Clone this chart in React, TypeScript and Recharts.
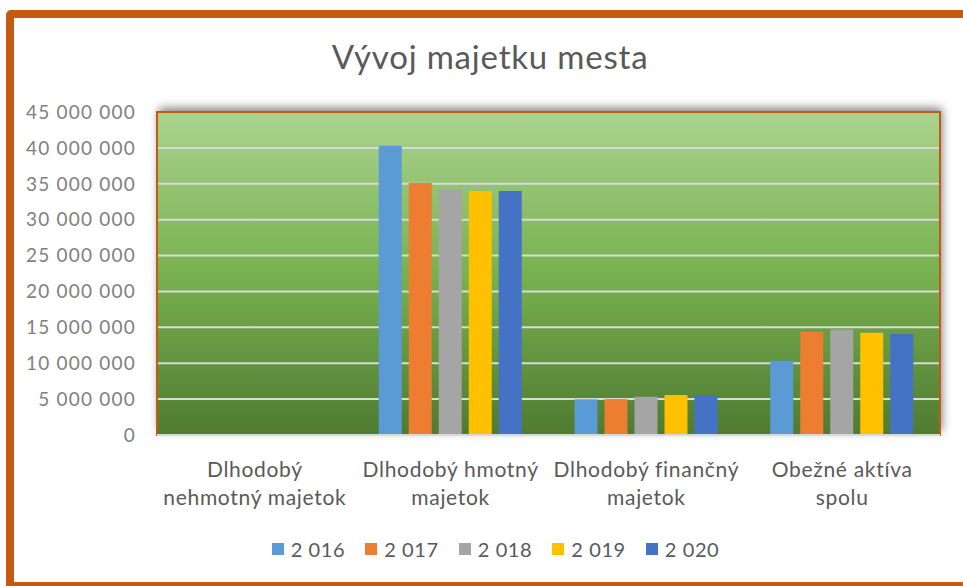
import React from "react";
import { BarChart, Bar, XAxis, YAxis, CartesianGrid, Legend, ReferenceArea } from "recharts";

const title = "Vývoj majetku mesta";
const categories = [
  "Dlhodobý\nnehmotný majetok",
  "Dlhodobý hmotný\nmajetok",
  "Dlhodobý finančný\nmajetok",
  "Obežné aktíva\nspolu",
];
const seriesNames = ["2 016", "2 017", "2 018", "2 019", "2 020"];
const seriesColors = ["#5b9bd5", "#ed7d31", "#a5a5a5", "#ffc000", "#4472c4"];
const values2016 = [0, 40300000, 4970000, 10350000];
const values2017 = [0, 35100000, 5000000, 14400000];
const values2018 = [0, 34200000, 5330000, 14700000];
const values2019 = [0, 34000000, 5570000, 14250000];
const values2020 = [0, 34000000, 5500000, 14070000];
const yTicks = [0, 5000000, 10000000, 15000000, 20000000, 25000000, 30000000, 35000000, 40000000, 45000000];

const seriesValues = [values2016, values2017, values2018, values2019, values2020];
const data = categories.map((c, i) => {
  const row: any = { name: c };
  seriesNames.forEach((s, k) => {
    row[s] = seriesValues[k][i];
  });
  return row;
});

const FONT = "Lato, 'Noto Sans', sans-serif";

const fmt = (v: number) => String(v).replace(/\B(?=(\d{3})+(?!\d))/g, " ");

const CatTick = (props: any) => {
  const { x, y, payload } = props;
  const lines = String(payload.value).split("\n");
  return (
    <text x={x} y={y} textAnchor="middle" fill="#595959" fontSize={21} fontFamily={FONT} letterSpacing={0.7}>
      {lines.map((l, i) => (
        <tspan key={i} x={x} dy={i === 0 ? 42 : 28}>
          {l}
        </tspan>
      ))}
    </text>
  );
};

const LegendContent = (props: any) => {
  const { payload } = props;
  return (
    <div style={{ display: "flex", justifyContent: "center", fontFamily: FONT }}>
      {(payload || []).map((p: any, i: number) => (
        <div key={i} style={{ display: "flex", alignItems: "center", marginRight: i < payload.length - 1 ? 20 : 0 }}>
          <div style={{ width: 12, height: 12, background: p.color, marginRight: 7 }} />
          <span style={{ color: "#595959", fontSize: 20, letterSpacing: 0.6 }}>{p.value}</span>
        </div>
      ))}
    </div>
  );
};

export default function App() {
  return (
    <div style={{ position: "absolute", left: 0, top: 0, width: 963, height: 586, background: "#fff", overflow: "hidden" }}>
      <div
        style={{
          position: "absolute",
          left: 6,
          top: 10,
          width: 1000,
          height: 580,
          border: "8px solid #c55a11",
          borderRadius: 5,
          boxSizing: "border-box",
        }}
      />
      <div
        style={{
          position: "absolute",
          left: 0,
          top: 36,
          width: 980,
          textAlign: "center",
          fontFamily: FONT,
          fontSize: 33,
          color: "#595959",
          letterSpacing: 0.8,
        }}
      >
        {title}
      </div>
      <div
        style={{
          position: "absolute",
          left: 157,
          top: 112,
          width: 783,
          height: 323,
          boxShadow: "2px -4px 9px rgba(0,0,0,0.5)",
        }}
      />
      <div style={{ position: "absolute", left: 0, top: 0 }}>
        <BarChart
          width={963}
          height={586}
          data={data}
          margin={{ top: 112, right: 23, bottom: 0, left: 0 }}
          barCategoryGap={26}
          barGap={7}
        >
          <defs>
            <linearGradient id="plotGrad" x1="0" y1="0" x2="0" y2="1">
              <stop offset="0%" stopColor="#abd38f" />
              <stop offset="50%" stopColor="#78b150" />
              <stop offset="100%" stopColor="#4f7b31" />
            </linearGradient>
          </defs>
          <CartesianGrid vertical={false} stroke="#d9d9d9" strokeWidth={2} fill="url(#plotGrad)" fillOpacity={1} />
          <ReferenceArea
            y1={0}
            y2={45000000}
            fill="none"
            stroke="#c55a11"
            strokeWidth={2}
            ifOverflow="visible"
          />
          <XAxis
            dataKey="name"
            height={151}
            tick={<CatTick />}
            tickLine={false}
            tickSize={0}
            tickMargin={0}
            axisLine={{ stroke: "#d9d9d9", strokeWidth: 2 }}
            interval={0}
          />
          <YAxis
            width={157}
            domain={[0, 45000000]}
            ticks={yTicks}
            interval={0}
            tickFormatter={fmt}
            axisLine={false}
            tickLine={false}
            tickMargin={15}
            tick={{ fill: "#7f7f7f", fontSize: 19, fontFamily: FONT, letterSpacing: 1.2 }}
          />
          <Legend
            layout="horizontal"
            verticalAlign="middle"
            align="center"
            wrapperStyle={{ top: 537, left: 0, width: 991 }}
            content={<LegendContent />}
          />
          {seriesNames.map((s, k) => (
            <Bar key={s} dataKey={s} fill={seriesColors[k]} isAnimationActive={false} />
          ))}
        </BarChart>
      </div>
    </div>
  );
}
